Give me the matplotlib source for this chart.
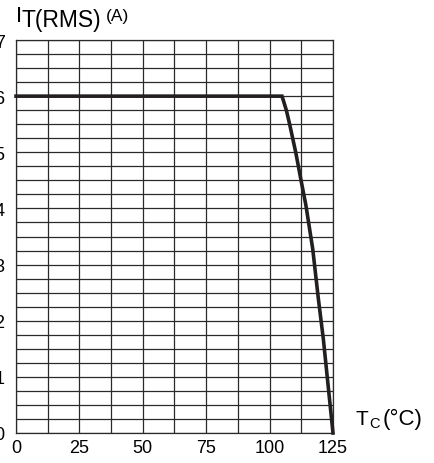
import matplotlib
matplotlib.use('Agg')
import matplotlib.pyplot as plt
from matplotlib.ticker import MultipleLocator

plt.rcParams['font.family'] = ['Liberation Sans', 'DejaVu Sans']

# derating curve: on-state RMS current vs case temperature
case_temp = [0, 104.9, 106.6, 107.9, 110.3, 112.4, 114.3, 117.0, 119.2, 121.2, 125]
rms_current = [6, 6, 5.75, 5.5, 5.0, 4.5, 4.06, 3.28, 2.4, 1.67, 0]

x_ticks = [0, 25, 50, 75, 100, 125]
y_ticks = [0, 1, 2, 3, 4, 5, 6, 7]

W, H = 435, 464
fig = plt.figure(figsize=(W / 100, H / 100), dpi=100)
ax = fig.add_axes([16 / W, 1 - 434 / H, (333 - 16) / W, (434 - 41) / H])

grid_col = '#2a2a2a'
ax.set_xlim(0, 125)
ax.set_ylim(0, 7)
ax.set_xticks(x_ticks)
ax.set_yticks(y_ticks)
ax.xaxis.set_minor_locator(MultipleLocator(12.5))
ax.yaxis.set_minor_locator(MultipleLocator(0.25))
ax.grid(which='both', color=grid_col, linewidth=0.9)
ax.set_axisbelow(True)
for sp in ax.spines.values():
    sp.set_color(grid_col)
    sp.set_linewidth(0.9)
ax.tick_params(which='both', length=0, labelsize=13)
ax.tick_params(axis='x', pad=4)
ax.tick_params(axis='y', pad=8.2)

ax.plot(case_temp, rms_current, color='#231f20', linewidth=2.6,
        solid_joinstyle='miter', clip_on=False, zorder=3)


def put(px, py, s, size):
    fig.text(px / W, 1 - py / H, s, fontsize=size, ha='left', va='baseline')


# y-axis title  I_T(RMS) (A)
put(15.5, 22, 'I', 16)
put(21.5, 26.5, 'T(RMS)', 16.5)
put(106, 20.5, '(A)', 12.5)

# x-axis title  T_C (°C)
put(356, 425, 'T', 15)
put(369, 428.5, 'C', 10.5)
put(383, 425, '(°C)', 16)

fig.savefig('out.png', dpi=100)
